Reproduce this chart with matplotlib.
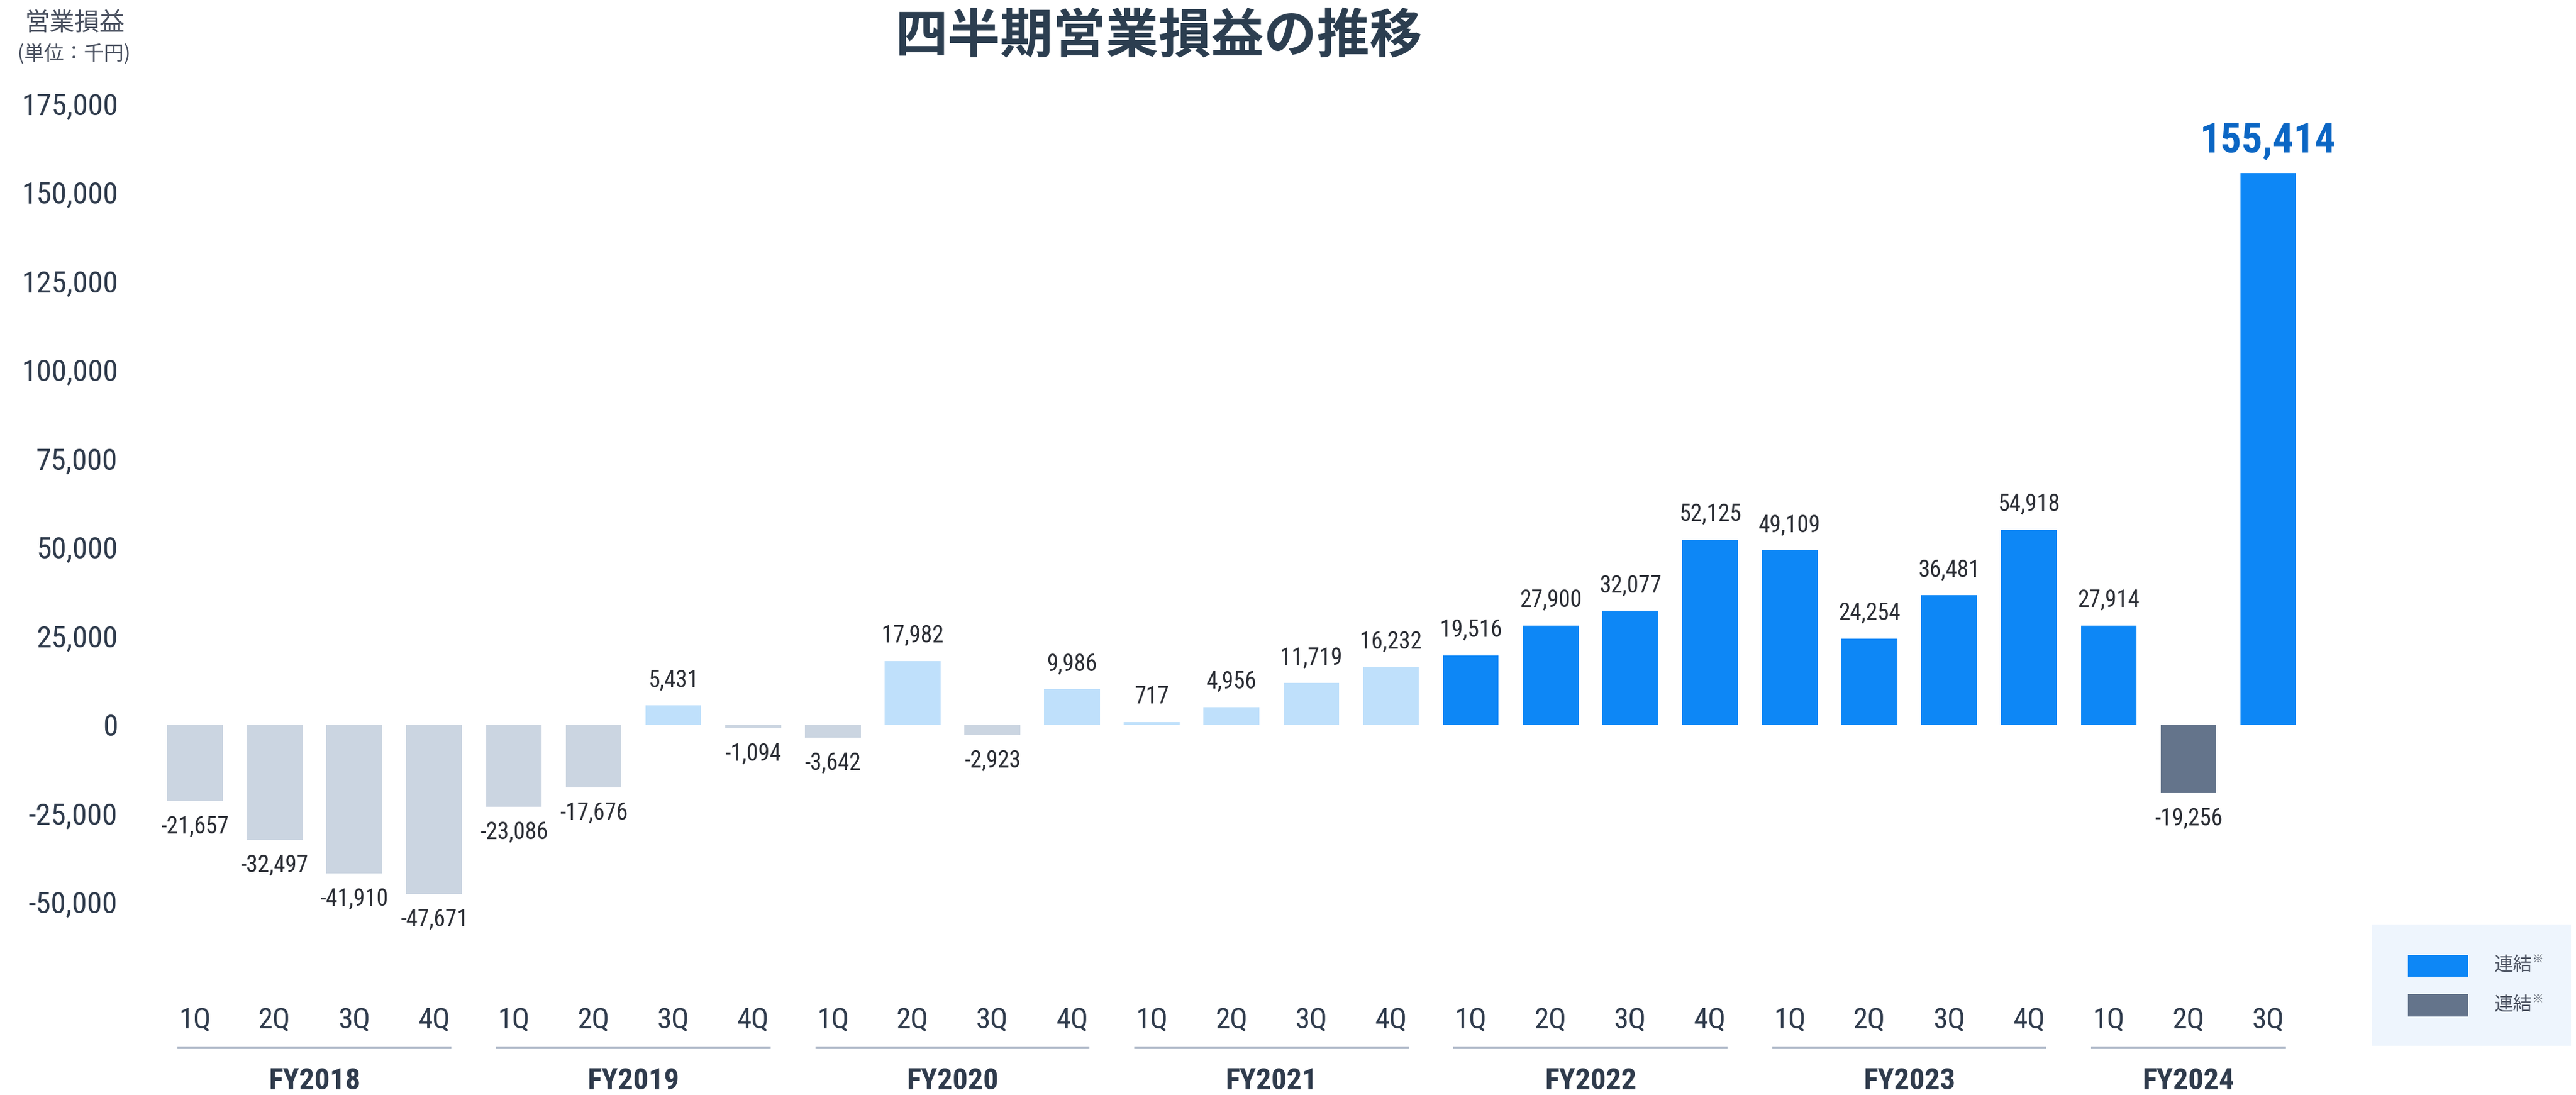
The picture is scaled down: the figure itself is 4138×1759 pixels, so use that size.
import sys
import matplotlib
matplotlib.use("Agg")
import matplotlib.pyplot as plt
import matplotlib.font_manager as fm
from matplotlib.patches import Rectangle
import matplotlib.transforms as mtransforms

# ---------------- data ----------------
fiscal_years = ["FY2018", "FY2019", "FY2020", "FY2021", "FY2022", "FY2023", "FY2024"]
quarters_per_year = [4, 4, 4, 4, 4, 4, 3]
quarter_labels = ["1Q", "2Q", "3Q", "4Q"]
fy2018 = [-21657, -32497, -41910, -47671]
fy2019 = [-23086, -17676, 5431, -1094]
fy2020 = [-3642, 17982, -2923, 9986]
fy2021 = [717, 4956, 11719, 16232]
fy2022 = [19516, 27900, 32077, 52125]
fy2023 = [49109, 24254, 36481, 54918]
fy2024 = [27914, -19256, 155414]
yticks = [-50000, -25000, 0, 25000, 50000, 75000, 100000, 125000, 150000, 175000]
title = "四半期営業損益の推移"
ylabel_main = "営業損益"
ylabel_unit = "(単位：千円)"
legend_labels = ["連結", "連結"]

series = [fy2018, fy2019, fy2020, fy2021, fy2022, fy2023, fy2024]


# ---------------- font selection (prefer a condensed face) ----------------
def pick_num_font():
    entries = fm.fontManager.ttflist
    names = {e.name for e in entries}
    for p in ["Roboto Condensed", "Liberation Sans Narrow", "DejaVu Sans Condensed",
              "Noto Sans Condensed", "Open Sans Condensed", "Noto Sans SemiCondensed"]:
        if p in names:
            return p, "normal", True
    for e in entries:
        if e.name in ("Roboto", "Noto Sans", "Open Sans", "DejaVu Sans", "Inter") and \
                e.stretch in ("condensed", "semi-condensed", 75, 87.5):
            return e.name, e.stretch, True
    for n in sorted(names):
        if "Condensed" in n or "Narrow" in n:
            return n, "normal", True
    return "Liberation Sans", "normal", False


num_name, num_stretch, is_condensed = pick_num_font()
print("number font:", num_name, num_stretch, file=sys.stderr)
SF = 1.0 if is_condensed else 0.86
NUM_FONT = [num_name, "DejaVu Sans"]
CJK_FONT = ["Noto Sans CJK JP", "DejaVu Sans"]

# ---------------- style ----------------
W, H = 4138, 1759
DPI = 100
C_PAST_NEG = "#cbd5e1"
C_PAST_POS = "#bfe0fb"
C_CONS_POS = "#0d87f6"
C_CONS_NEG = "#64748b"
C_TEXT = "#2f3b4c"
C_VAL = "#2b2e35"
C_LINE = "#a9b4c4"

fig = plt.figure(figsize=(W / DPI, H / DPI), dpi=DPI)
fig.patch.set_facecolor("white")


def fx(px):
    return px / W


def fy(py):
    return 1 - py / H


ax_left, ax_right = 220, 3780
ax_top, ax_bot = 138, 1506
ax = fig.add_axes([fx(ax_left), fy(ax_bot), fx(ax_right - ax_left), (ax_bot - ax_top) / H])
ax.set_ylim(-60000, 180000)
ax.set_xlim(-0.726, 27.065)
for s in ax.spines.values():
    s.set_visible(False)

xs, vals, colors, group_starts = [], [], [], []
idx = 0
for fyname, vlist in zip(fiscal_years, series):
    group_starts.append(idx)
    consolidated = int(fyname[2:]) >= 2022
    for v in vlist:
        xs.append(idx)
        vals.append(v)
        if consolidated:
            colors.append(C_CONS_POS if v >= 0 else C_CONS_NEG)
        else:
            colors.append(C_PAST_POS if v >= 0 else C_PAST_NEG)
        idx += 1

ax.bar(xs, vals, width=0.70, color=colors, edgecolor="none", zorder=2)

numkw = dict(family=NUM_FONT, fontstretch=num_stretch)

for i, (x, v) in enumerate(zip(xs, vals)):
    if i == len(xs) - 1:
        ax.annotate(f"{v:,}", (x, v), xytext=(0, 14), textcoords="offset points",
                    ha="center", va="bottom", fontsize=48 * SF, fontweight="bold",
                    color="#0b66c4", **numkw)
    elif v >= 0:
        ax.annotate(f"{v:,}", (x, v), xytext=(0, 16), textcoords="offset points",
                    ha="center", va="bottom", fontsize=27 * SF, color=C_VAL, **numkw)
    else:
        ax.annotate(f"{v:,}", (x, v), xytext=(0, -16), textcoords="offset points",
                    ha="center", va="top", fontsize=27 * SF, color=C_VAL, **numkw)

ax.set_yticks(yticks)
ax.set_yticklabels([f"{t:,}" for t in yticks], fontsize=35.5 * SF, color=C_TEXT, **numkw)
ax.tick_params(axis="y", length=0, pad=22)

xlabels = []
for n in quarters_per_year:
    xlabels += quarter_labels[:n]
ax.set_xticks(xs)
ax.set_xticklabels(xlabels, fontsize=34 * SF, color=C_TEXT, **numkw)
ax.tick_params(axis="x", length=0, pad=80)

trans = mtransforms.blended_transform_factory(ax.transData, fig.transFigure)
for start, n, name in zip(group_starts, quarters_per_year, fiscal_years):
    x0 = start - 0.22
    x1 = start + n - 1 + 0.22
    ax.plot([x0, x1], [fy(1683), fy(1683)], transform=trans, color=C_LINE,
            lw=3.0, solid_capstyle="butt", clip_on=False)
    ax.text((x0 + x1) / 2, fy(1737), name, transform=trans, ha="center", va="center",
            fontsize=35 * SF, fontweight="bold", color=C_TEXT, **numkw)

fig.text(fx(1861), fy(58), title, ha="center", va="center", fontsize=61,
         fontweight="bold", color="#2c3e50", family=CJK_FONT)
fig.text(fx(120), fy(37), ylabel_main, ha="center", va="center", fontsize=29,
         color="#4a5160", family=CJK_FONT)
fig.text(fx(119), fy(87), ylabel_unit, ha="center", va="center", fontsize=23,
         color="#4a5160", family=CJK_FONT)

fig.add_artist(Rectangle((fx(3810), fy(1680)), fx(4130 - 3810), (1680 - 1485) / H,
                         transform=fig.transFigure, facecolor="#eef5fd", edgecolor="none"))
for (ptop, pbot), col, lab in zip([(1534, 1569), (1597, 1633)], [C_CONS_POS, C_CONS_NEG], legend_labels):
    fig.add_artist(Rectangle((fx(3868), fy(pbot)), fx(3965 - 3868), (pbot - ptop) / H,
                             transform=fig.transFigure, facecolor=col, edgecolor="none"))
    yc = (ptop + pbot) / 2
    fig.text(fx(4007), fy(yc), lab, ha="left", va="center", fontsize=22,
             color="#4a5160", family=CJK_FONT)
    fig.text(fx(4068), fy(yc - 10), "※", ha="left", va="center", fontsize=13,
             color="#4a5160", family=CJK_FONT)

fig.savefig("out.png", dpi=DPI, facecolor="white")
